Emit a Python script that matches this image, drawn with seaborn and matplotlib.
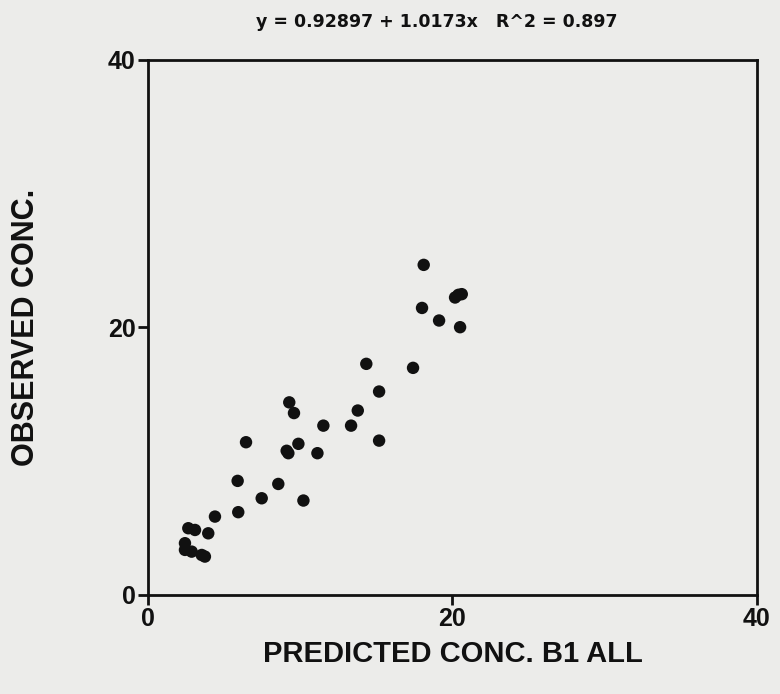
import matplotlib
matplotlib.use("Agg")
import matplotlib.pyplot as plt
import seaborn as sns
import pandas as pd

predicted = [18.11, 20.39, 20.17, 20.61, 18.00, 19.12, 20.50, 14.34, 17.41, 15.18,
             9.28, 9.59, 13.78, 11.52, 13.34, 6.44, 15.18, 9.88, 9.22, 9.11,
             11.13, 5.89, 8.56, 7.47, 10.21, 5.93, 4.40, 2.65, 3.09, 3.96,
             2.43, 2.43, 2.87, 3.53, 3.74]
observed = [24.68, 22.44, 22.24, 22.49, 21.46, 20.52, 20.02, 17.28, 16.98, 15.21,
            14.40, 13.60, 13.79, 12.66, 12.66, 11.42, 11.54, 11.30, 10.60, 10.78,
            10.60, 8.53, 8.30, 7.23, 7.06, 6.19, 5.86, 4.99, 4.86, 4.61,
            3.87, 3.37, 3.24, 2.99, 2.87]

title_text = "y = 0.92897 + 1.0173x   R^2 = 0.897"
x_label = "PREDICTED CONC. B1 ALL"
y_label = "OBSERVED CONC."
ticks = [0, 20, 40]

df = pd.DataFrame({"pred": predicted, "obs": observed})

sns.set_theme(style="white")
plt.rcParams["font.family"] = ["Liberation Sans", "DejaVu Sans"]
plt.rcParams["font.weight"] = "bold"

bg = "#ececea"
fig = plt.figure(figsize=(7.8, 6.94), dpi=100, facecolor=bg)
ax = fig.add_axes([0.1897, 0.1427, 0.7808, 0.7709])
ax.set_facecolor(bg)

sns.scatterplot(data=df, x="pred", y="obs", ax=ax, s=80, color="#111111",
                edgecolor="none", linewidth=0, legend=False)

ax.set_xlim(0, 40)
ax.set_ylim(0, 40)
ax.set_xticks(ticks)
ax.set_yticks(ticks)
ax.set_xticklabels([str(t) for t in ticks], fontsize=18, fontweight="bold")
ax.set_yticklabels([str(t) for t in ticks], fontsize=18, fontweight="bold")
ax.tick_params(axis="both", direction="out", length=7, width=2, color="#111111",
               labelcolor="#111111", pad=2, bottom=True, left=True)
for sp in ax.spines.values():
    sp.set_visible(True)
    sp.set_linewidth(2)
    sp.set_color("#111111")

ax.set_xlabel(x_label, fontsize=21, fontweight="bold", color="#111111")
ax.set_ylabel(y_label, fontsize=22, fontweight="bold", color="#111111")
ax.xaxis.set_label_coords(0.5, (595 - 654) / 535, transform=ax.transAxes)
ax.yaxis.set_label_coords((26 - 148) / 609, 0.5, transform=ax.transAxes)
ax.xaxis.label.set_va("center")
ax.yaxis.label.set_va("center")

fig.text(437 / 780, 1 - 22 / 694, title_text, ha="center", va="center",
         fontsize=12.5, fontweight="bold", color="#111111", family="DejaVu Sans")

fig.savefig("out.png", dpi=100, facecolor=bg)
